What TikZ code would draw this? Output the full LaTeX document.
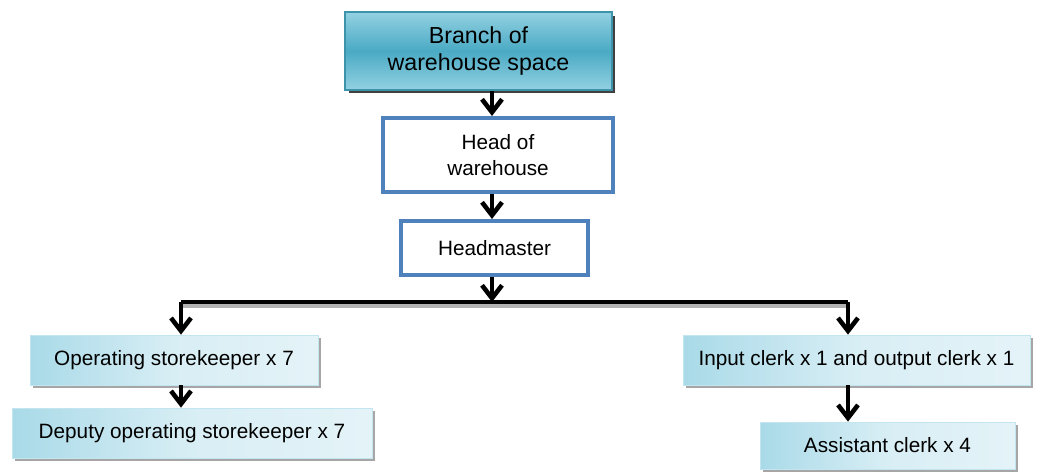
\documentclass[tikz,border=0pt]{standalone}
\usepackage{fontspec}
\setmainfont{Liberation Sans}
\usetikzlibrary{arrows.meta,shadows}

\definecolor{tealbox}{HTML}{4AAAC4}
\definecolor{tealtop}{HTML}{93D1E2}
\definecolor{tealedge}{HTML}{3C93AA}
\definecolor{paleblue}{HTML}{E4F3F8}
\definecolor{skyblue}{HTML}{A9DAE8}
\definecolor{frameblue}{HTML}{4F81BD}

\tikzset{
  topbox/.style={draw=tealedge, line width=0.8pt, top color=tealtop, bottom color=tealtop,
    middle color=tealbox, align=center, font=\fontsize{13.2}{15.5}\selectfont,
    drop shadow={shadow xshift=0.07cm, shadow yshift=-0.07cm, fill=black!75, opacity=1}},
  framebox/.style={draw=frameblue, line width=2.3pt, fill=white, align=center,
    font=\fontsize{11.8}{14.5}\selectfont},
  staffbox/.style={draw=skyblue!70!white, line width=0.4pt, left color=skyblue, right color=paleblue,
    middle color=paleblue!80!skyblue, align=center, font=\fontsize{11.8}{14}\selectfont,
    minimum height=1cm,
    drop shadow={shadow xshift=0.06cm, shadow yshift=-0.06cm, fill=black!35, opacity=1}},
  arr/.style={line width=2.6pt, -{Straight Barb[length=0.26cm, width=0.4cm, line width=2.6pt]}},
  barline/.style={line width=2.8pt}
}

\begin{document}
\begin{tikzpicture}[x=0.02cm, y=-0.02cm, inner sep=0pt]
  \useasboundingbox (0,0) rectangle (1040,471);

  % top of the chart
  \node[topbox, minimum width=5.34cm, minimum height=1.56cm] (branch) at (478.5,51) {Branch of\\warehouse space};
  \node[framebox, minimum width=4.6cm, minimum height=1.48cm] (head) at (498,155) {Head of\\warehouse};
  \node[framebox, minimum width=3.74cm, minimum height=1.08cm] (master) at (494.5,248) {Headmaster};

  % staff boxes
  \node[staffbox, minimum width=5.76cm] (oper) at (174,360) {Operating storekeeper x 7};
  \node[staffbox, minimum width=7.2cm] (deputy) at (192,433) {Deputy operating storekeeper x 7};
  \node[staffbox, minimum width=6.94cm] (input) at (856.5,360) {Input clerk x 1 and output clerk x 1};
  \node[staffbox, minimum width=5.1cm, minimum height=0.94cm] (assist) at (887.5,445.5) {Assistant clerk x 4};

  % columns of the arrows
  \coordinate (spine) at (492,0);
  \coordinate (lcol) at (181,0);
  \coordinate (rcol) at (848,0);
  \coordinate (bar) at (0,302);

  % horizontal bar with its shadow
  \draw[barline, black!30] ([yshift=-1.8pt]lcol |- bar) -- ([yshift=-1.8pt]rcol |- bar);
  \draw[barline] (lcol |- bar) -- (rcol |- bar);

  % arrows
  \draw[arr] (spine |- branch.south) -- (spine |- head.north);
  \draw[arr] (spine |- head.south) -- (spine |- master.north);
  \draw[arr] (spine |- master.south) -- (spine |- bar);
  \draw[arr] (lcol |- bar) -- (lcol |- oper.north);
  \draw[arr] (rcol |- bar) -- (rcol |- input.north);
  \draw[arr] (lcol |- oper.south) -- (lcol |- deputy.north);
  \draw[arr] (rcol |- input.south) -- (rcol |- assist.north);
\end{tikzpicture}
\end{document}
